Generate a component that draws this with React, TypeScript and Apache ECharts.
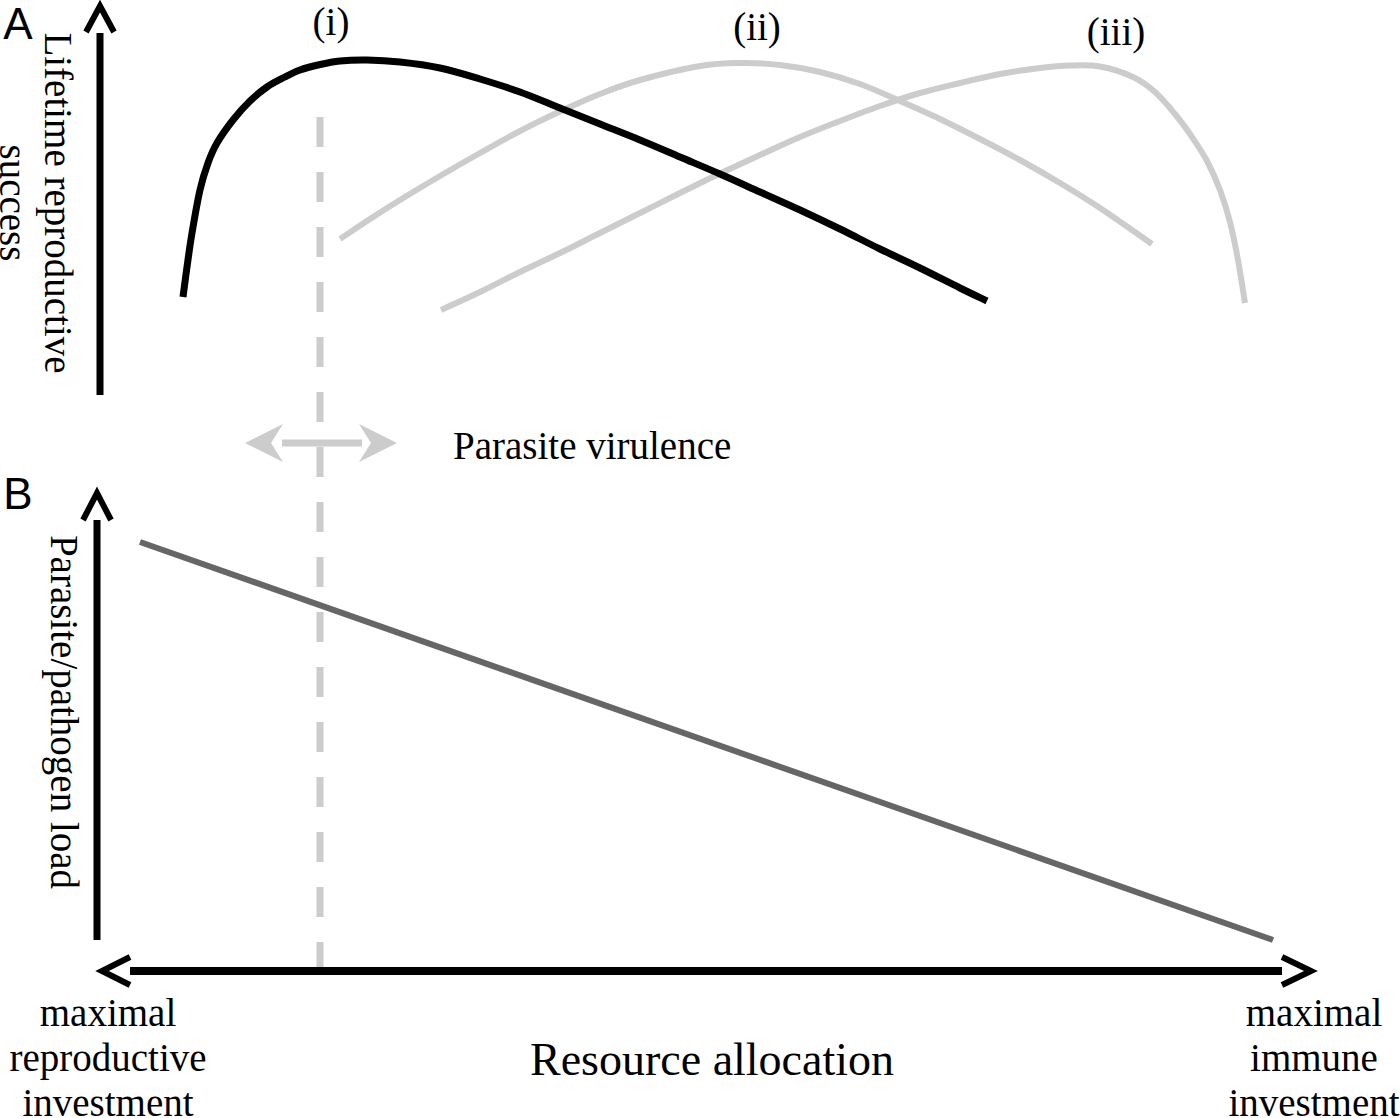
import React, { useEffect, useRef } from "react";
import * as echarts from "echarts";

// Canvas-space coordinates (x: 0..1400 left→right, y: 0..1118 top→bottom)
const curveI: number[][] = [
  [183, 297], [187, 267], [192, 233], [200, 190], [208, 163], [217, 143], [233, 120],
  [250, 101], [267, 87], [285, 77], [300, 70], [318, 65], [340, 61], [367, 60],
  [400, 62], [440, 68], [480, 79], [520, 92], [560, 108], [600, 124], [640, 140],
  [680, 157], [720, 174], [760, 192], [800, 210], [840, 229], [880, 249], [920, 268],
  [960, 288], [987, 301],
];
const curveII: number[][] = [
  [340, 239], [370, 219], [400, 200], [440, 176], [480, 153], [520, 131], [561, 111],
  [600, 94], [640, 80], [700, 66], [740, 63], [780, 65], [820, 72], [860, 84],
  [900, 101], [940, 119], [980, 139], [1020, 160], [1060, 183], [1100, 208],
  [1152, 244],
];
const curveIII: number[][] = [
  [441, 310], [480, 292], [520, 272], [560, 253], [600, 233], [640, 213], [680, 193],
  [721, 173], [760, 155], [800, 137], [840, 121], [880, 106], [920, 93], [960, 83],
  [1000, 74], [1040, 68], [1070, 65.5], [1100, 66.5], [1133, 77], [1155, 92],
  [1175, 114], [1192, 137], [1207, 161], [1220, 190], [1230, 222], [1238, 260],
  [1245, 303],
];
const loadLine: number[][] = [[140, 542], [1273, 940]];
const dashedLine: number[][] = [[320, 117], [320, 970]];
const axisA: number[][] = [[100, 395], [100, 33]];
const chevronA: number[][] = [[86, 32], [100, 6], [114, 32]];
const axisB: number[][] = [[97, 940], [97, 520]];
const chevronB: number[][] = [[83, 520], [97, 493], [111, 520]];
const axisX: number[][] = [[130, 971], [1282, 971]];
const chevronLeft: number[][] = [[130, 957], [102, 971], [130, 985]];
const chevronRight: number[][] = [[1282, 957], [1311, 971], [1282, 985]];
const virulenceBar: number[][] = [[282, 443], [362, 443]];
const virulenceHeads: number[][] = [[245, 443, 1], [397, 443, -1]];

const curveLabels = ["(i)", "(ii)", "(iii)"];
const curveLabelPos: number[][] = [[331, 21], [757, 26], [1116, 31]];

const SERIF = '"Liberation Serif", "Times New Roman", serif';
const SANS = '"Liberation Sans", Arial, sans-serif';
const LIGHT = "#cccccc";

function lineSeries(data: number[][], color: string, width: number, extra: any = {}) {
  return {
    type: "line",
    data,
    symbol: "none",
    showSymbol: false,
    silent: true,
    lineStyle: { color, width, cap: "butt", join: "miter", ...extra },
  };
}

// Smooth curve through the data points (Catmull-Rom → cubic Bézier), positions via api.coord
function curveSeries(data: number[][], color: string, width: number) {
  return {
    type: "custom",
    silent: true,
    data,
    encode: { x: 0, y: 1 },
    renderItem: (params: any, api: any) => {
      if (params.dataIndex !== 0) return { type: "group", children: [] };
      const pts = data.map((d) => api.coord([d[0], d[1]]));
      let path = `M${pts[0][0]},${pts[0][1]}`;
      for (let i = 0; i < pts.length - 1; i++) {
        const p0 = pts[Math.max(0, i - 1)];
        const p1 = pts[i];
        const p2 = pts[i + 1];
        const p3 = pts[Math.min(pts.length - 1, i + 2)];
        const c1x = p1[0] + (p2[0] - p0[0]) / 6;
        const c1y = p1[1] + (p2[1] - p0[1]) / 6;
        const c2x = p2[0] - (p3[0] - p1[0]) / 6;
        const c2y = p2[1] - (p3[1] - p1[1]) / 6;
        path += ` C${c1x},${c1y} ${c2x},${c2y} ${p2[0]},${p2[1]}`;
      }
      return {
        type: "path",
        shape: { pathData: path },
        style: { fill: "none", stroke: color, lineWidth: width, lineCap: "butt", lineJoin: "round" },
      };
    },
  };
}

export default function App() {
  const ref = useRef<HTMLDivElement>(null);
  useEffect(() => {
    document.body.style.margin = "0";
    const chart = echarts.init(ref.current!, null, { renderer: "svg" });
    const labelText = curveLabels.map((t, i) => ({
      type: "text",
      x: curveLabelPos[i][0],
      y: curveLabelPos[i][1],
      style: { text: t, font: `39px ${SERIF}`, fill: "#000", align: "center", verticalAlign: "middle" },
    }));
    chart.setOption({
      animation: false,
      grid: { left: 0, right: 0, top: 0, bottom: 0, containLabel: false },
      xAxis: { type: "value", min: 0, max: 1400, show: false },
      yAxis: { type: "value", min: 0, max: 1118, inverse: true, show: false },
      series: [
        lineSeries(dashedLine, LIGHT, 7, { type: [30, 25], dashOffset: 0 }),
        curveSeries(curveII, LIGHT, 6),
        curveSeries(curveIII, LIGHT, 6),
        curveSeries(curveI, "#000", 7),
        lineSeries(loadLine, "#666666", 6),
        lineSeries(axisA, "#000", 7),
        lineSeries(chevronA, "#000", 6),
        lineSeries(axisB, "#000", 7),
        lineSeries(chevronB, "#000", 6),
        lineSeries(axisX, "#000", 8),
        lineSeries(chevronLeft, "#000", 6),
        lineSeries(chevronRight, "#000", 6),
        lineSeries(virulenceBar, LIGHT, 7),
        {
          type: "custom",
          silent: true,
          data: virulenceHeads,
          encode: { x: 0, y: 1 },
          renderItem: (params: any, api: any) => {
            const p = api.coord([api.value(0), api.value(1)]);
            const d = api.value(2);
            return {
              type: "polygon",
              shape: {
                points: [
                  [p[0], p[1]],
                  [p[0] + d * 38, p[1] - 19],
                  [p[0] + d * 26, p[1]],
                  [p[0] + d * 38, p[1] + 19],
                ],
              },
              style: { fill: LIGHT },
            };
          },
        },
      ],
      graphic: [
        { type: "text", x: 18, y: 23, style: { text: "A", font: `44px ${SANS}`, fill: "#000", align: "center", verticalAlign: "middle" } },
        { type: "text", x: 18, y: 493, style: { text: "B", font: `44px ${SANS}`, fill: "#000", align: "center", verticalAlign: "middle" } },
        {
          type: "text", x: 36, y: 203, rotation: -Math.PI / 2,
          style: { text: "Lifetime reproductive\nsuccess", font: `39px ${SERIF}`, lineHeight: 45, fill: "#000", align: "center", verticalAlign: "middle" },
        },
        {
          type: "text", x: 64, y: 712, rotation: -Math.PI / 2,
          style: { text: "Parasite/pathogen load", font: `39px ${SERIF}`, fill: "#000", align: "center", verticalAlign: "middle" },
        },
        ...labelText,
        { type: "text", x: 453, y: 445, style: { text: "Parasite virulence", font: `39px ${SERIF}`, fill: "#000", align: "left", verticalAlign: "middle" } },
        {
          type: "text", x: 108, y: 1057,
          style: { text: "maximal\nreproductive\ninvestment", font: `39px ${SERIF}`, lineHeight: 45, fill: "#000", align: "center", verticalAlign: "middle" },
        },
        {
          type: "text", x: 1314, y: 1057,
          style: { text: "maximal\nimmune\ninvestment", font: `39px ${SERIF}`, lineHeight: 45, fill: "#000", align: "center", verticalAlign: "middle" },
        },
        { type: "text", x: 712, y: 1059, style: { text: "Resource allocation", font: `46px ${SERIF}`, fill: "#000", align: "center", verticalAlign: "middle" } },
      ],
    });
    return () => chart.dispose();
  }, []);
  return <div ref={ref} style={{ width: 1400, height: 1118 }} />;
}
